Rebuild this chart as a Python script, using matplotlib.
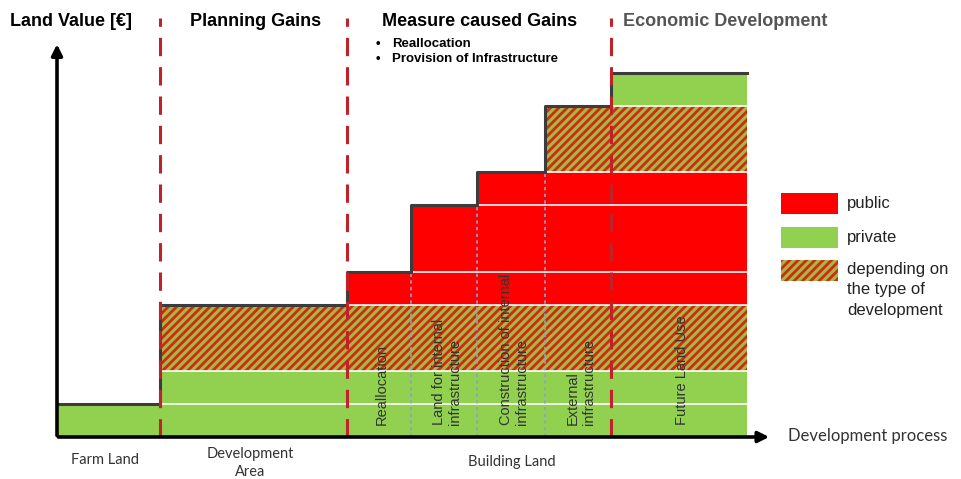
import matplotlib
matplotlib.use("Agg")
import matplotlib.pyplot as plt
from matplotlib.patches import Rectangle
import numpy as np

plt.rcParams['font.family'] = ['Liberation Sans', 'DejaVu Sans']
plt.rcParams['hatch.linewidth'] = 2.0

# stages of the development process (left to right) and their widths
stages = ['Farm Land', 'Development Area', 'Reallocation', 'Land for internal infrastructure',
          'Construction of internal infrastructure', 'External infrastructure', 'Future Land Use']
stage_widths = [3.1, 5.65, 1.95, 2.0, 2.05, 2.0, 4.1]

# stacked blocks of land value per stage: (owner, height)
base_blocks = [('private', 1), ('private', 1), ('mixed', 2)]
stage_blocks = [
    [('private', 1)],
    base_blocks,
    base_blocks + [('public', 1)],
    base_blocks + [('public', 1), ('public', 2)],
    base_blocks + [('public', 1), ('public', 2), ('public', 1)],
    base_blocks + [('public', 1), ('public', 2), ('public', 1), ('mixed', 2)],
    base_blocks + [('public', 1), ('public', 2), ('public', 1), ('mixed', 2), ('private', 1)],
]

# rotated labels inside the building land stages
inner_labels = ['', '', 'Reallocation', 'Land for internal\ninfrastructure',
                'Construction of internal\ninfrastructure', 'External\ninfrastructure', 'Future Land Use']

phase_titles = ['Planning Gains', 'Measure caused Gains', 'Economic Development']
measure_bullets = ['Reallocation', 'Provision of Infrastructure']
legend_labels = ['public', 'private', 'depending on\nthe type of\ndevelopment']

styles = {
    'public': dict(color='#ff0000', hatch=None, hcolor='#ff0000'),
    'private': dict(color='#92d050', hatch=None, hcolor='#92d050'),
    'mixed': dict(color='#a3b845', hatch='////', hcolor='#d22a12'),
}

W, H = 961, 479
fig = plt.figure(figsize=(W / 100, H / 100), dpi=100)
ax = fig.add_axes([0, 0, 1, 1])
scale = 33.1  # pixels per unit
ax.set_xlim(-57 / scale, (W - 57) / scale)
ax.set_ylim(-(H - 437) / scale, 437 / scale)
ax.axis('off')

def fx(px):
    return px / W

def fy(py):
    return 1 - py / H

edges = np.concatenate([[0], np.cumsum(stage_widths)])
tops = []
for i, blocks in enumerate(stage_blocks):
    bottom = 0
    for owner, h in blocks:
        st = styles[owner]
        ax.bar(edges[i], h, width=stage_widths[i], bottom=bottom, align='edge',
               color=st['color'], hatch=st['hatch'], edgecolor=st['hcolor'], linewidth=0, zorder=1)
        if bottom > 0:
            ax.hlines(bottom, edges[i], edges[i + 1], color='white', lw=1.2, zorder=2)
        bottom += h
    tops.append(bottom)

# step outline along the top
ax.step(edges, tops + [tops[-1]], where='post', color='#3c3c3c', lw=2.2, zorder=4)

# blue dotted separators between building land stages
for i in [3, 4, 5]:
    ax.vlines(edges[i], 0, min(tops[i], 8), color='#8da2cf', lw=1.2, linestyle=(0, (2, 2)), zorder=3)

# red dashed phase boundaries
for i in [1, 2, 6]:
    ax.vlines(edges[i], 0, 12.66, color='#bf2229', lw=2.2, linestyle=(0, (6, 3.6)), zorder=5)

# axes arrows
ax.annotate('', xy=(0, 11.95), xytext=(0, -0.04),
            arrowprops=dict(arrowstyle='-|>', lw=2.6, color='black', mutation_scale=16), zorder=6)
ax.annotate('', xy=(21.6, 0), xytext=(-0.04, 0),
            arrowprops=dict(arrowstyle='-|>', lw=2.6, color='black', mutation_scale=16), zorder=6)

# rotated stage labels
for i, lab in enumerate(inner_labels):
    if lab:
        ax.text((edges[i] + edges[i + 1]) / 2 + 0.08, 0.36, lab, rotation=90, ha='center', va='bottom',
                multialignment='left', fontsize=10.5, color='#333333', zorder=7)

# header texts
fig.text(fx(10), fy(22), 'Land Value [€]', fontsize=13, fontweight='bold', va='center')
fig.text(fx(190), fy(22), phase_titles[0], fontsize=13, fontweight='bold', va='center')
fig.text(fx(382), fy(22), phase_titles[1], fontsize=13, fontweight='bold', va='center')
fig.text(fx(623), fy(22), phase_titles[2], fontsize=13, fontweight='bold', va='center', color='#555555')
for k, b in enumerate(measure_bullets):
    fig.text(fx(376), fy(44 + 15 * k), '•', fontsize=9.5, fontweight='bold', va='center')
    fig.text(fx(392), fy(44 + 15 * k), b, fontsize=9.5, fontweight='bold', va='center')

# bottom labels
bfont = dict(family=['Lato', 'DejaVu Sans'], color='#333333')
fig.text(fx(105), fy(460), 'Farm Land', fontsize=10.5, ha='center', va='center', **bfont)
fig.text(fx(250), fy(447), 'Development\nArea', fontsize=10.5, ha='center', va='top', linespacing=1.35, **bfont)
fig.text(fx(512), fy(462), 'Building Land', fontsize=10.5, ha='center', va='center', **bfont)
fig.text(fx(788), fy(436), 'Development process', fontsize=12, ha='left', va='center', **bfont)

# legend
legend_owners = ['public', 'private', 'mixed']
legend_y = [193, 227, 260]
for owner, py, lab in zip(legend_owners, legend_y, legend_labels):
    st = styles[owner]
    fig.add_artist(Rectangle((fx(781), fy(py + 21)), 57 / W, 21 / H, transform=fig.transFigure,
                             facecolor=st['color'], hatch=st['hatch'], edgecolor=st['hcolor'], lw=0))
    if '\n' in lab:
        fig.text(fx(847), fy(py + 2), lab, fontsize=12, va='top', color='#222222', linespacing=1.45)
    else:
        fig.text(fx(847), fy(py + 10.5), lab, fontsize=12, va='center', color='#222222')

fig.savefig('out.png', dpi=100)
